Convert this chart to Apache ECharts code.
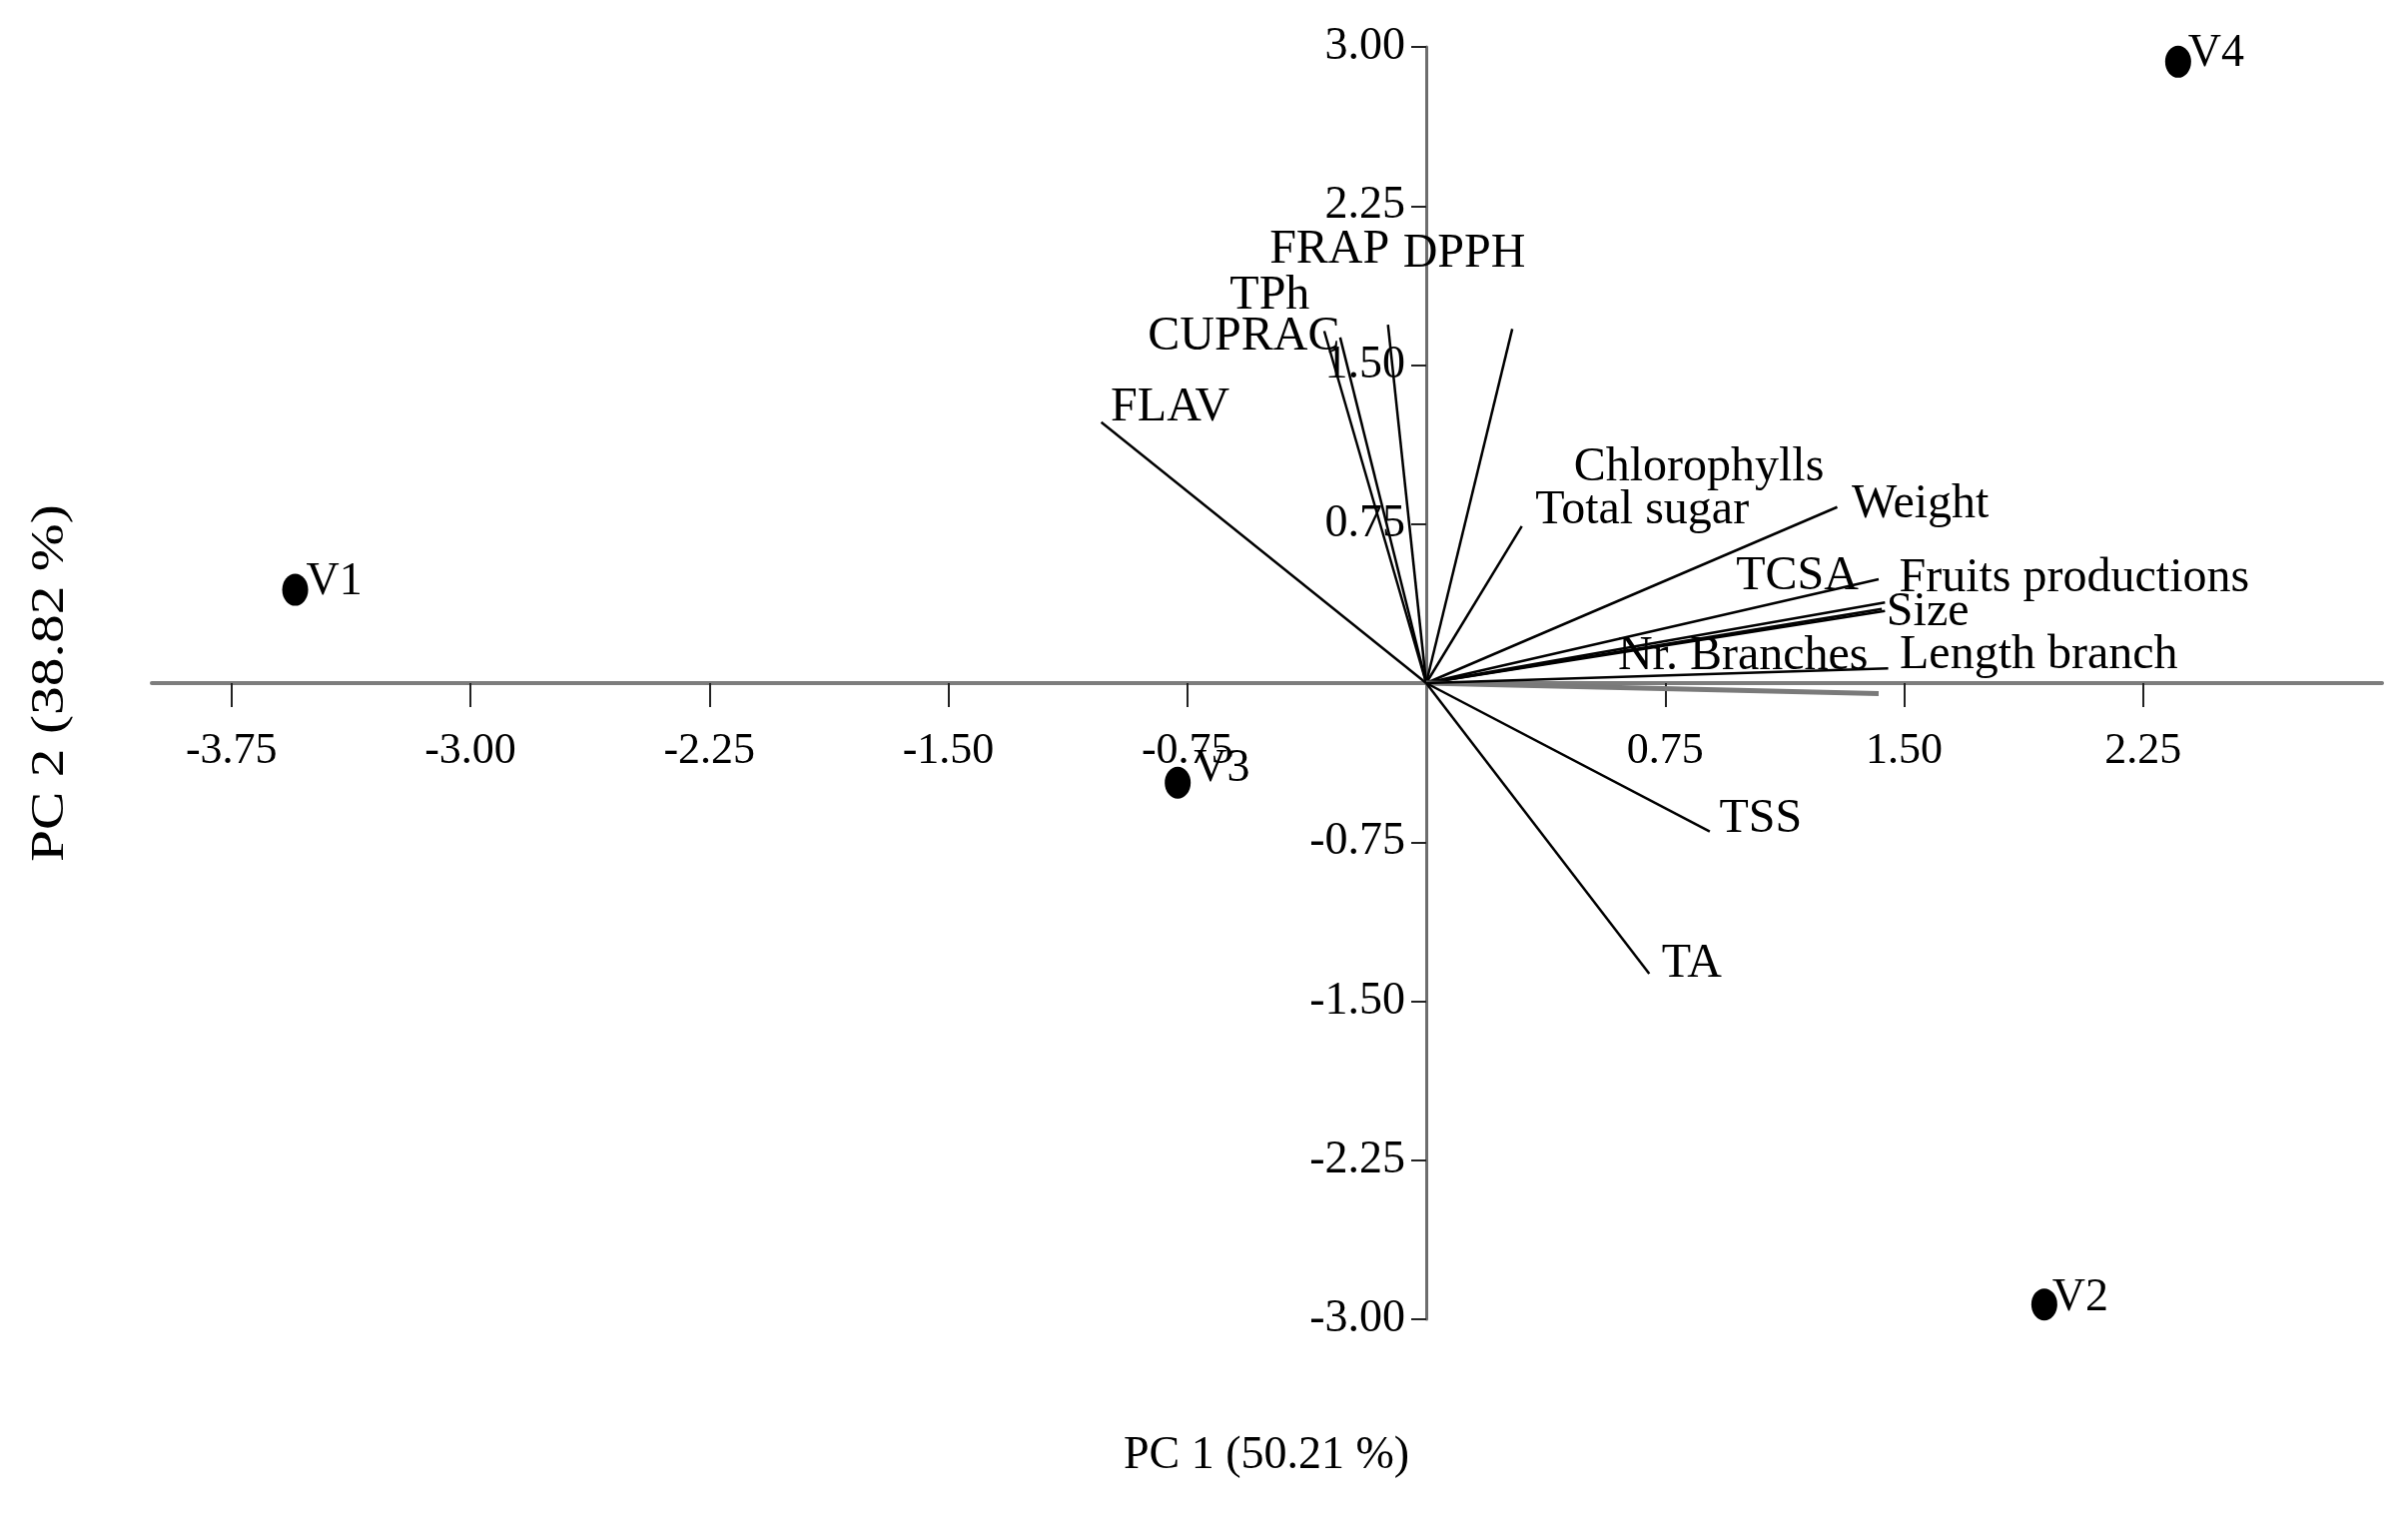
<!DOCTYPE html>
<html>
<head>
<meta charset="utf-8">
<script src="https://cdn.jsdelivr.net/npm/echarts@6/dist/echarts.min.js"></script>
<style>
  html, body { margin: 0; background: #fff; }
  #chart { width: 2411px; height: 1522px; }
</style>
</head>
<body>
<div id="chart"></div>
<script>
// loadings (variable vectors)
const varNames = ['FLAV', 'CUPRAC', 'TPh', 'FRAP', 'DPPH', 'Chlorophylls', 'Total sugar', 'Weight',
  'TCSA', 'Fruits productions', 'Size', 'Nr. Branches', 'Length branch', 'TSS', 'TA'];
const varPC1 = [-1.02, -0.32, -0.27, -0.12, 0.27, 1.43, 0.30, 1.29, 1.44, 1.42, 1.44, 1.42, 1.45, 0.89, 0.70];
const varPC2 = [1.23, 1.66, 1.63, 1.69, 1.67, 0.35, 0.74, 0.83, 0.34, 0.49, 0.38, -0.05, 0.07, -0.70, -1.37];

// sample scores
const sampleNames = ['V1', 'V2', 'V3', 'V4'];
const samplePC1 = [-3.55, 1.94, -0.78, 2.36];
const samplePC2 = [0.44, -2.93, -0.47, 2.93];

const xTicks = [-3.75, -3.00, -2.25, -1.50, -0.75, 0.75, 1.50, 2.25];
const yTicks = [-3.00, -2.25, -1.50, -0.75, 0.75, 1.50, 2.25, 3.00];

const FONT = 'Liberation Serif';
const INK = '#000';

// grid box in px; axes are pushed onto the zero lines with offset
const G = { left: 152, right: 26, top: 47, bottom: 201 };
const X_MIN = -4, X_MAX = 3, Y_MIN = -3, Y_MAX = 3;
const plotW = 2411 - G.left - G.right, plotH = 1522 - G.top - G.bottom;
const zeroX = plotW * (0 - X_MIN) / (X_MAX - X_MIN);
const zeroY = plotH * (Y_MAX - 0) / (Y_MAX - Y_MIN);

// where each label sits relative to its point: [align, dx, dy] in px
const varLabelPlace = {
  'FLAV': ['left', 10, -14],
  'CUPRAC': ['right', 16, 6],
  'TPh': ['right', -30, -41],
  'FRAP': ['right', 2, -74],
  'DPPH': ['left', -109, -75],
  'Chlorophylls': ['left', -308, -141],
  'Total sugar': ['left', 14, -15],
  'Weight': ['left', 15, -2],
  'TCSA': ['right', -26, -34],
  'Fruits productions': ['left', 21, 0],
  'Size': ['left', 2, 11],
  'Nr. Branches': ['right', -10, -37],
  'Length branch': ['left', 12, -12],
  'TSS': ['left', 10, -12],
  'TA': ['left', 13, -9]
};
const sampleLabelPlace = { V1: [11, -8], V2: [8, -6], V3: [16, -14], V4: [10, -8] };

const chart = echarts.init(document.getElementById('chart'));

const vectorLines = varNames.map((n, i) => {
  const item = { coords: [[0, 0], [varPC1[i], varPC2[i]]] };
  // the near-horizontal one merges with the axis band in the original
  if (n === 'Nr. Branches') item.lineStyle = { color: '#7a7a7a', width: 5 };
  return item;
});
const vectorEnds = varNames.map((n, i) => {
  const p = varLabelPlace[n];
  return {
    name: n,
    value: [varPC1[i], varPC2[i]],
    label: { position: [p[1], p[2]], align: p[0] }
  };
});
const samples = sampleNames.map((n, i) => ({
  name: n,
  value: [samplePC1[i], samplePC2[i]],
  label: { position: [13 + sampleLabelPlace[n][0], 16 + sampleLabelPlace[n][1]] }
}));

chart.setOption({
  animation: false,
  backgroundColor: '#fff',
  grid: G,
  xAxis: {
    type: 'value',
    min: X_MIN,
    max: X_MAX,
    offset: -(plotH - zeroY),
    axisLine: { onZero: false, lineStyle: { color: '#7d7d7d', width: 4 } },
    axisTick: { show: true, length: 24, customValues: xTicks, lineStyle: { color: '#222', width: 2 } },
    axisLabel: {
      customValues: xTicks,
      formatter: v => v.toFixed(2),
      margin: 46,
      fontSize: 44,
      fontFamily: FONT,
      color: INK
    },
    splitLine: { show: false }
  },
  yAxis: {
    type: 'value',
    min: Y_MIN,
    max: Y_MAX,
    offset: -zeroX,
    axisLine: { onZero: false, lineStyle: { color: '#6d6d6d', width: 3 } },
    axisTick: { show: true, length: 15, customValues: yTicks, lineStyle: { color: '#222', width: 2 } },
    axisLabel: {
      customValues: yTicks,
      formatter: v => v.toFixed(2),
      margin: 21,
      fontSize: 46,
      fontFamily: FONT,
      color: INK
    },
    splitLine: { show: false }
  },
  graphic: [
    {
      type: 'text',
      x: 1268, y: 1458,
      style: { text: 'PC 1 (50.21 %)', fontSize: 46, fontFamily: FONT, fill: INK,
        textAlign: 'center', textVerticalAlign: 'middle' }
    },
    {
      type: 'text',
      x: 51, y: 684,
      rotation: Math.PI / 2,
      scaleX: 1.25,
      style: { text: 'PC 2 (38.82 %)', fontSize: 46, fontFamily: FONT, fill: INK,
        textAlign: 'center', textVerticalAlign: 'middle' }
    }
  ],
  series: [
    {
      type: 'lines',
      coordinateSystem: 'cartesian2d',
      silent: true,
      z: 3,
      lineStyle: { color: '#000', width: 2.5, opacity: 1 },
      data: vectorLines
    },
    {
      type: 'scatter',
      silent: true,
      z: 4,
      symbolSize: 1,
      itemStyle: { color: 'rgba(0,0,0,0)', opacity: 1 },
      label: {
        show: true,
        formatter: '{b}',
        verticalAlign: 'middle',
        fontSize: 48,
        fontFamily: FONT,
        color: INK,
        opacity: 1
      },
      data: vectorEnds
    },
    {
      type: 'scatter',
      silent: true,
      z: 5,
      symbol: 'circle',
      symbolSize: [26, 32],
      itemStyle: { color: '#000', opacity: 1 },
      label: {
        show: true,
        formatter: '{b}',
        verticalAlign: 'middle',
        align: 'left',
        fontSize: 46,
        fontFamily: FONT,
        color: INK,
        opacity: 1
      },
      data: samples
    }
  ]
});
</script>
</body>
</html>
